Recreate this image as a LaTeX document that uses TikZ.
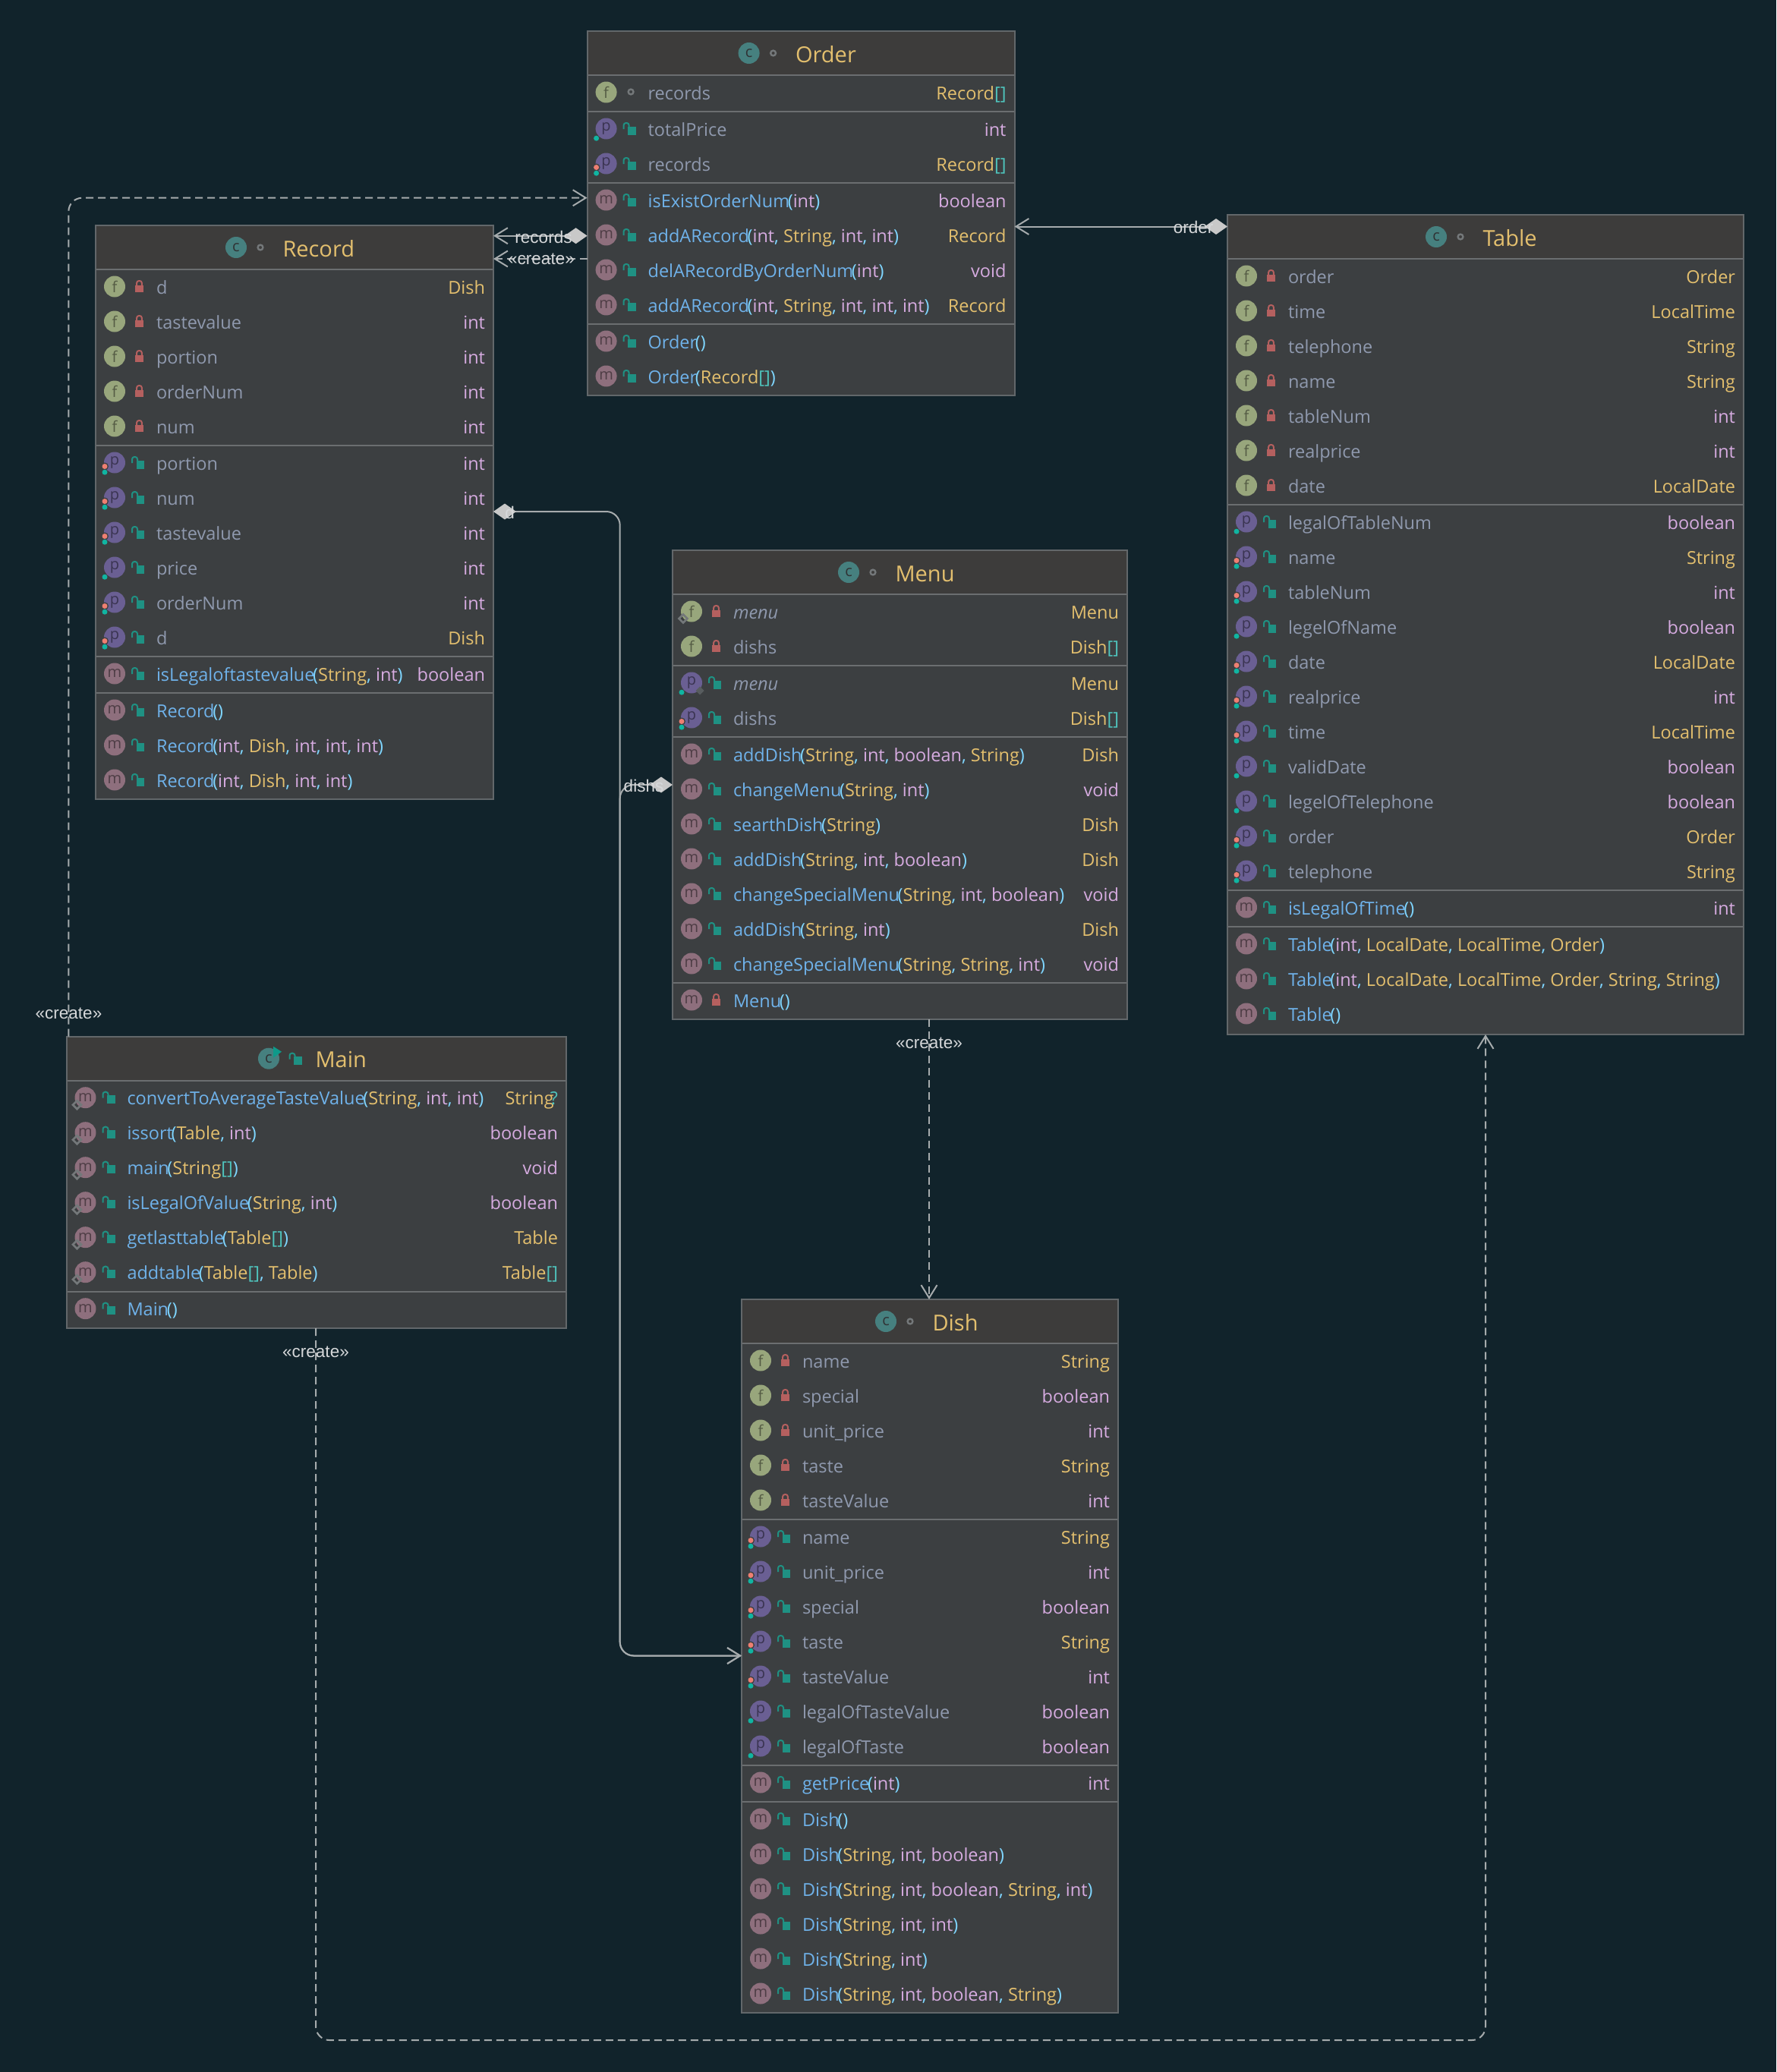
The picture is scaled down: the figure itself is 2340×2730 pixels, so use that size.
\documentclass[tikz,border=0pt]{standalone}
\usepackage{fontspec}
\setmainfont{Open Sans}
\newfontfamily\lblfont{Liberation Sans}
\usetikzlibrary{arrows.meta}
\definecolor{cbg}{HTML}{11232B}
\definecolor{cbody}{HTML}{3C3F41}
\definecolor{chead}{HTML}{3D3C3B}
\definecolor{cedge}{HTML}{62676A}
\definecolor{csep}{HTML}{6B6E70}
\definecolor{cfield}{HTML}{8F99AE}
\definecolor{cmeth}{HTML}{6FB2EA}
\definecolor{cpar}{HTML}{7FD6FF}
\definecolor{cpink}{HTML}{D6ABE0}
\definecolor{cyel}{HTML}{E3BF6E}
\definecolor{cteal}{HTML}{4FC4BD}
\definecolor{cicf}{HTML}{98A67C}
\definecolor{cicp}{HTML}{6A5F93}
\definecolor{cicm}{HTML}{8E6F7D}
\definecolor{cicc}{HTML}{46807F}
\definecolor{clockc}{HTML}{B5605F}
\definecolor{clocko}{HTML}{1F9183}
\definecolor{cdotg}{HTML}{10B5A2}
\definecolor{cdots}{HTML}{EE7F72}
\definecolor{cstat}{HTML}{74787A}
\definecolor{cline}{HTML}{A6ABAD}
\definecolor{cdia}{HTML}{C8C8C8}
\definecolor{clbl}{HTML}{D6D8DA}
\newcommand\xI{\textcolor{cpink}{int}}
\newcommand\xS{\textcolor{cyel}{String}}
\newcommand\xB{\textcolor{cpink}{boolean}}
\newcommand\xV{\textcolor{cpink}{void}}
\newcommand\xY[1]{\textcolor{cyel}{#1}}
\newcommand\xA{\textcolor{cteal}{[]}}
\newcommand\xC{\textcolor{cpar}{,}\ }
\newcommand\mth[2]{\textcolor{cmeth}{#1}\kern-.1em\textcolor{cpar}{(}#2\textcolor{cpar}{)}}
\newcount\rowid
\def\cury{0}
\def\xl{0}
\def\xr{0}
\tikzset{
  x=1pt,y=-1pt,
  umlbox/.style={draw=cedge,line width=2pt,fill=cbody,anchor=north west,inner sep=0pt,outer sep=0pt},
  sepline/.style={draw=csep,line width=2.4pt},
  rowname/.style={anchor=base west,inner sep=0pt,outer sep=0pt,text=cfield,font=\fontsize{23.5}{28}\selectfont},
  rowtype/.style={anchor=base east,inner sep=0pt,outer sep=0pt,font=\fontsize{23.5}{28}\selectfont},
  titletext/.style={anchor=base west,inner sep=0pt,outer sep=0pt,text=cyel,font=\fontsize{29}{34}\selectfont},
  badge/.style={circle,inner sep=0pt,outer sep=0pt,minimum size=28pt,font=\fontsize{20}{22}\selectfont},
  conn/.style={draw=cline,line width=2pt,rounded corners=18pt},
  conndash/.style={conn,dash pattern=on 10pt off 6pt},
  barb/.tip={Straight Barb[length=17pt,width=21pt,line width=2pt]},
  dia/.tip={Diamond[length=30pt,width=21pt,color=cdia,fill=cdia]},
  lbl/.style={inner sep=0pt,outer sep=0pt,text=clbl,font=\lblfont\fontsize{22.5}{26}\selectfont},
}
% modifiers, drawn at the current badge (\ix,\iy)
\newcommand\mG{\fill[cdotg] (\ix-13,\iy+12.7) circle (3.5pt);}
\newcommand\mS{\fill[cbody] (\ix-13,\iy+5) circle (5pt);\fill[cdots] (\ix-13,\iy+5) circle (3.5pt);}
\newcommand\mD{\draw[cstat,line width=2.6pt] (\ix-11,\iy+4) -- (\ix-5.5,\iy+9.5) -- (\ix-11,\iy+15) -- (\ix-16.5,\iy+9.5) -- cycle;}
\newcommand\mF{\fill[cstat!120!white] (\ix+11,\iy+5) -- (\ix+16.5,\iy+10.5) -- (\ix+11,\iy+16) -- (\ix+5.5,\iy+10.5) -- cycle;}
% visibility marks, drawn at (\lx,\rc)
\newcommand\Vlock{\fill[clockc] (\lx-5.8,\rc-3.3) rectangle (\lx+5.8,\rc+6);
  \draw[clockc,line width=2pt,rounded corners=3pt] (\lx-3.4,\rc-3) -- (\lx-3.4,\rc-9) -- (\lx+3.4,\rc-9) -- (\lx+3.4,\rc-3);}
\newcommand\Vopen{\fill[clocko] (\lx-3.7,\rc-4.5) rectangle (\lx+6.5,\rc+6.5);
  \draw[clocko,line width=2pt,rounded corners=3pt] (\lx-9.5,\rc-1) -- (\lx-9.5,\rc-9) -- (\lx-2.5,\rc-9) -- (\lx-2.5,\rc-4);}
\newcommand\Vring{\draw[cstat,line width=2.4pt] (\lx,\rc-2) circle (3.4pt);}
% class box: name,left,top,right,bottom,icon x,title,header extras
\newcommand\uclass[8]{%
  \pgfmathsetmacro\bw{#4-#2}\pgfmathsetmacro\bh{#5-#3}%
  \node[umlbox,minimum width=\bw pt,minimum height=\bh pt] (#1) at (#2,#3) {};%
  \fill[chead] (#2+1,#3+1) rectangle (#4-1,#3+58);%
  \node[badge,fill=cicc,text=cbody!80!black] (#1icon) at (#6,#3+29) {c};%
  \node[titletext] (#1title) at (#6+61.5,#3+41) {#7};%
  \pgfmathsetmacro\ix{#6}\pgfmathsetmacro\iy{#3+29}\pgfmathsetmacro\lx{#6+32}\pgfmathsetmacro\rc{#3+31}%
  #8%
  \pgfmathsetmacro\xl{#2}\pgfmathsetmacro\xr{#4}\pgfmathsetmacro\cury{#3+58}%
  \usep}
\newcommand\usep{\draw[sepline] (\xl+1,\cury) -- (\xr-1,\cury);\pgfmathsetmacro\cury{\cury+1}}
\newcommand\nsep{\pgfmathsetmacro\cury{\cury+1}\usep}
% row: letter,modifiers,visibility,text,type
\newcommand\urow[5]{%
  \global\advance\rowid by 1
  \pgfmathsetmacro\rc{\cury+23}\pgfmathsetmacro\ix{\xl+25}\pgfmathsetmacro\iy{\rc-1.5}\pgfmathsetmacro\lx{\xl+57.5}%
  \ifx f#1\def\icfill{cicf}\fi\ifx p#1\def\icfill{cicp}\fi\ifx m#1\def\icfill{cicm}\fi
  \node[badge,fill=\icfill,text=\icfill!55!black] (ic\the\rowid) at (\ix,\iy) {#1};%
  #2#3%
  \node[rowname] (nm\the\rowid) at (\xl+80,\rc+8.2) {#4};%
  \if\relax\detokenize{#5}\relax\else\node[rowtype] (ty\the\rowid) at (\xr-11,\rc+8.2) {#5};\fi
  \pgfmathsetmacro\cury{\cury+46}}
\begin{document}
\begin{tikzpicture}
\path[use as bounding box,fill=cbg] (0,0) rectangle (2340,2730);

% ---------- Order
\uclass{order}{773.6}{41}{1336.5}{521}{986.6}{Order}{\Vring}
\urow{f}{}{\Vring}{records}{\xY{Record}\xA}
\nsep
\urow{p}{\mG}{\Vopen}{totalPrice}{\xI}
\urow{p}{\mS\mG}{\Vopen}{records}{\xY{Record}\xA}
\nsep
\urow{m}{}{\Vopen}{\mth{isExistOrderNum}{\xI}}{\xB}
\urow{m}{}{\Vopen}{\mth{addARecord}{\xI\xC\xS\xC\xI\xC\xI}}{\xY{Record}}
\urow{m}{}{\Vopen}{\mth{delARecordByOrderNum}{\xI}}{\xV}
\urow{m}{}{\Vopen}{\mth{addARecord}{\xI\xC\xS\xC\xI\xC\xI\xC\xI}}{\xY{Record}}
\nsep
\urow{m}{}{\Vopen}{\mth{Order}{}}{}
\urow{m}{}{\Vopen}{\mth{Order}{\xY{Record}\xA}}{}

% ---------- Record
\uclass{record}{126}{297}{650}{1053}{311}{Record}{\Vring}
\urow{f}{}{\Vlock}{d}{\xY{Dish}}
\urow{f}{}{\Vlock}{tastevalue}{\xI}
\urow{f}{}{\Vlock}{portion}{\xI}
\urow{f}{}{\Vlock}{orderNum}{\xI}
\urow{f}{}{\Vlock}{num}{\xI}
\nsep
\urow{p}{\mS\mG}{\Vopen}{portion}{\xI}
\urow{p}{\mS\mG}{\Vopen}{num}{\xI}
\urow{p}{\mS\mG}{\Vopen}{tastevalue}{\xI}
\urow{p}{\mG}{\Vopen}{price}{\xI}
\urow{p}{\mS\mG}{\Vopen}{orderNum}{\xI}
\urow{p}{\mS\mG}{\Vopen}{d}{\xY{Dish}}
\nsep
\urow{m}{}{\Vopen}{\mth{isLegaloftastevalue}{\xS\xC\xI}}{\xB}
\nsep
\urow{m}{}{\Vopen}{\mth{Record}{}}{}
\urow{m}{}{\Vopen}{\mth{Record}{\xI\xC\xY{Dish}\xC\xI\xC\xI\xC\xI}}{}
\urow{m}{}{\Vopen}{\mth{Record}{\xI\xC\xY{Dish}\xC\xI\xC\xI}}{}

% ---------- Table
\uclass{table}{1617}{283}{2297}{1363}{1892}{Table}{\Vring}
\urow{f}{}{\Vlock}{order}{\xY{Order}}
\urow{f}{}{\Vlock}{time}{\xY{LocalTime}}
\urow{f}{}{\Vlock}{telephone}{\xS}
\urow{f}{}{\Vlock}{name}{\xS}
\urow{f}{}{\Vlock}{tableNum}{\xI}
\urow{f}{}{\Vlock}{realprice}{\xI}
\urow{f}{}{\Vlock}{date}{\xY{LocalDate}}
\nsep
\urow{p}{\mG}{\Vopen}{legalOfTableNum}{\xB}
\urow{p}{\mS\mG}{\Vopen}{name}{\xS}
\urow{p}{\mS\mG}{\Vopen}{tableNum}{\xI}
\urow{p}{\mG}{\Vopen}{legelOfName}{\xB}
\urow{p}{\mS\mG}{\Vopen}{date}{\xY{LocalDate}}
\urow{p}{\mS\mG}{\Vopen}{realprice}{\xI}
\urow{p}{\mS\mG}{\Vopen}{time}{\xY{LocalTime}}
\urow{p}{\mG}{\Vopen}{validDate}{\xB}
\urow{p}{\mG}{\Vopen}{legelOfTelephone}{\xB}
\urow{p}{\mS\mG}{\Vopen}{order}{\xY{Order}}
\urow{p}{\mS\mG}{\Vopen}{telephone}{\xS}
\nsep
\urow{m}{}{\Vopen}{\mth{isLegalOfTime}{}}{\xI}
\nsep
\urow{m}{}{\Vopen}{\mth{Table}{\xI\xC\xY{LocalDate}\xC\xY{LocalTime}\xC\xY{Order}}}{}
\urow{m}{}{\Vopen}{\mth{Table}{\xI\xC\xY{LocalDate}\xC\xY{LocalTime}\xC\xY{Order}\xC\xS\xC\xS}}{}
\urow{m}{}{\Vopen}{\mth{Table}{}}{}

% ---------- Menu
\uclass{menu}{886}{725}{1485}{1342.5}{1118}{Menu}{\Vring}
\urow{f}{\mD}{\Vlock}{\textit{menu}}{\xY{Menu}}
\urow{f}{}{\Vlock}{dishs}{\xY{Dish}\xA}
\nsep
\urow{p}{\mG\mF}{\Vopen}{\textit{menu}}{\xY{Menu}}
\urow{p}{\mS\mG}{\Vopen}{dishs}{\xY{Dish}\xA}
\nsep
\urow{m}{}{\Vopen}{\mth{addDish}{\xS\xC\xI\xC\xB\xC\xS}}{\xY{Dish}}
\urow{m}{}{\Vopen}{\mth{changeMenu}{\xS\xC\xI}}{\xV}
\urow{m}{}{\Vopen}{\mth{searthDish}{\xS}}{\xY{Dish}}
\urow{m}{}{\Vopen}{\mth{addDish}{\xS\xC\xI\xC\xB}}{\xY{Dish}}
\urow{m}{}{\Vopen}{\mth{changeSpecialMenu}{\xS\xC\xI\xC\xB}}{\xV}
\urow{m}{}{\Vopen}{\mth{addDish}{\xS\xC\xI}}{\xY{Dish}}
\urow{m}{}{\Vopen}{\mth{changeSpecialMenu}{\xS\xC\xS\xC\xI}}{\xV}
\nsep
\urow{m}{}{\Vlock}{\mth{Menu}{}}{}

% ---------- Main
\uclass{main}{87.5}{1365.7}{746}{1750}{354}{Main}{%
  \fill[cdotg!85!black] (\ix+6,\iy-16) -- (\ix+17,\iy-9) -- (\ix+6,\iy-1) -- cycle;%
  \pgfmathsetmacro\lx{\ix+37}\pgfmathsetmacro\rc{\iy+2}\Vopen}
\urow{m}{\mD}{\Vopen}{\mth{convertToAverageTasteValue}{\xS\xC\xI\xC\xI}}{\xS\kern-.2em\textcolor{cteal}{?}}
\urow{m}{\mD}{\Vopen}{\mth{issort}{\xY{Table}\xC\xI}}{\xB}
\urow{m}{\mD}{\Vopen}{\mth{main}{\xS\xA}}{\xV}
\urow{m}{\mD}{\Vopen}{\mth{isLegalOfValue}{\xS\xC\xI}}{\xB}
\urow{m}{\mD}{\Vopen}{\mth{getlasttable}{\xY{Table}\xA}}{\xY{Table}}
\urow{m}{\mD}{\Vopen}{\mth{addtable}{\xY{Table}\xA\xC\xY{Table}}}{\xY{Table}\xA}
\nsep
\urow{m}{}{\Vopen}{\mth{Main}{}}{}

% ---------- Dish
\uclass{dish}{977}{1712}{1473}{2651.5}{1167}{Dish}{\Vring}
\urow{f}{}{\Vlock}{name}{\xS}
\urow{f}{}{\Vlock}{special}{\xB}
\urow{f}{}{\Vlock}{unit\_price}{\xI}
\urow{f}{}{\Vlock}{taste}{\xS}
\urow{f}{}{\Vlock}{tasteValue}{\xI}
\nsep
\urow{p}{\mS\mG}{\Vopen}{name}{\xS}
\urow{p}{\mS\mG}{\Vopen}{unit\_price}{\xI}
\urow{p}{\mS\mG}{\Vopen}{special}{\xB}
\urow{p}{\mS\mG}{\Vopen}{taste}{\xS}
\urow{p}{\mS\mG}{\Vopen}{tasteValue}{\xI}
\urow{p}{\mG}{\Vopen}{legalOfTasteValue}{\xB}
\urow{p}{\mG}{\Vopen}{legalOfTaste}{\xB}
\nsep
\urow{m}{}{\Vopen}{\mth{getPrice}{\xI}}{\xI}
\nsep
\urow{m}{}{\Vopen}{\mth{Dish}{}}{}
\urow{m}{}{\Vopen}{\mth{Dish}{\xS\xC\xI\xC\xB}}{}
\urow{m}{}{\Vopen}{\mth{Dish}{\xS\xC\xI\xC\xB\xC\xS\xC\xI}}{}
\urow{m}{}{\Vopen}{\mth{Dish}{\xS\xC\xI\xC\xI}}{}
\urow{m}{}{\Vopen}{\mth{Dish}{\xS\xC\xI}}{}
\urow{m}{}{\Vopen}{\mth{Dish}{\xS\xC\xI\xC\xB\xC\xS}}{}

% ---------- connectors
\coordinate (ordInA) at ([yshift=-219.7pt]order.north west);
\coordinate (ordRec) at ([yshift=-269.7pt]order.north west);
\coordinate (ordCre) at ([yshift=-300pt]order.north west);
\coordinate (tabOrd) at ([yshift=-15.5pt]table.north west);
\coordinate (recD)   at ([yshift=-377pt]record.north east);
\coordinate (menuD)  at ([yshift=-309pt]menu.north west);
\coordinate (bus)    at (816.7,2181.5);
\coordinate (mainUp) at ([xshift=2.8pt]main.north west);
\coordinate (mainDn) at ([xshift=328.5pt]main.south west);
\coordinate (menuDn) at ([xshift=338pt]menu.south west);
\coordinate (low)    at (1957,2688);

\draw[conndash,-{barb}] (mainUp) |- (ordInA);
\draw[conn,{dia}-{barb}] (ordRec) -- (ordRec -| record.east);
\draw[conndash,-{barb}] (ordCre) -- (ordCre -| record.east);
\draw[conn,{dia}-{barb}] (tabOrd) -- (tabOrd -| order.east);
\draw[conn,{dia}-{barb}] (recD) -| (bus) -- (bus -| dish.west);
\draw[conn,{dia}-{barb}] (menuD) -| (bus) -- (bus -| dish.west);
\draw[conndash,-{barb}] (menuDn) -- (menuDn |- dish.north);
\draw[conndash,-{barb}] (mainDn) |- (low) -- (low |- table.south);

\node[lbl] (lblA) at (90.5,1335.5) {«create»};
\node[lbl] (lblB) at (716,312) {records};
\node[lbl] (lblC) at (713,341) {«create»};
\node[lbl] (lblD) at (1572,299) {order};
\node[lbl] (lblE) at (671.7,675) {d};
\node[lbl] (lblF) at (848,1035) {dishs};
\node[lbl] (lblG) at (1224,1374) {«create»};
\node[lbl] (lblH) at (416,1781) {«create»};
\end{tikzpicture}
\end{document}
